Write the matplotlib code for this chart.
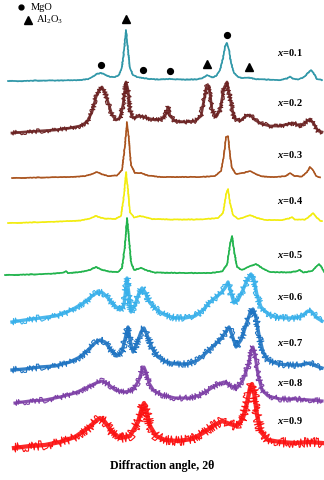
import matplotlib
matplotlib.use("Agg")
import matplotlib.pyplot as plt
import numpy as np

plt.rcParams['font.family'] = ['Liberation Serif', 'DejaVu Serif']
plt.rcParams['mathtext.fontset'] = 'custom'
plt.rcParams['mathtext.rm'] = 'Liberation Serif'
plt.rcParams['mathtext.it'] = 'Liberation Serif:italic:bold'
plt.rcParams['mathtext.bf'] = 'Liberation Serif:bold'

# XRD patterns, 2theta (deg) vs intensity (a.u., above each pattern's baseline)
tt_01 = [10.66, 13.3, 17.7, 22.1, 26.5, 28.3, 29.4, 30.24, 31.12, 32.0, 33.1, 34.2, 35.08, 35.74, 36.18,
         36.62, 37.06, 37.5, 38.16, 39.04, 40.36, 41.9, 44.1, 46.3, 48.5, 51.8, 53.34, 54.0, 54.44, 54.88,
         55.54, 56.42, 57.3, 57.96, 58.4, 58.84, 59.28, 59.72, 60.38, 61.26, 62.36, 63.68, 65.0, 67.2,
         70.5, 72.04, 72.7, 73.36, 74.46, 75.78, 76.66, 77.32, 77.98, 78.64, 79.74]
I_01 = [0, 0, 0.5, 0.5, 1, 2, 4.5, 7, 8, 6.5, 4, 4, 6, 14, 31,
        51, 31, 13, 6, 4, 3, 2, 1.5, 2, 1.5, 1.5, 2.5, 4.5, 6, 5,
        3.5, 5, 11, 23, 34, 38, 31, 18, 8, 4, 3, 3.5, 2, 1.5,
        1, 2.5, 4.5, 2.5, 1.5, 4, 8, 11, 7, 2, 1]

tt_02 = [11.54, 14.4, 17.7, 21.0, 24.3, 26.5, 28.04, 29.14, 30.02, 30.68, 31.34, 32.0, 32.66, 33.54, 34.42,
         35.3, 35.96, 36.62, 37.06, 37.5, 38.16, 39.7, 41.24, 43.0, 44.54, 45.42, 45.86, 46.3, 47.4, 49.6,
         51.8, 53.12, 53.78, 54.44, 54.88, 55.54, 56.42, 57.3, 58.18, 58.84, 59.5, 60.38, 61.7, 63.02, 63.9,
         65.0, 66.54, 68.3, 70.5, 72.26, 73.36, 74.9, 76.22, 77.1, 77.98, 78.86, 79.74]
I_02 = [0, 1, 2, 3, 5, 7, 11, 21, 36, 43, 46, 40, 31, 18, 13,
        15, 28, 51, 43, 23, 15, 17, 15, 13, 14, 19, 26, 17, 12, 11,
        12, 17, 33, 47, 47, 23, 16, 23, 45, 51, 35, 15, 12, 17, 18,
        13, 9, 7, 7, 9, 10, 7, 11, 14, 9, 2, 1]

tt_03 = [11.54, 17.7, 24.3, 27.6, 29.14, 30.24, 31.12, 32.66, 34.64, 35.74, 36.4, 36.84, 37.28, 37.72, 38.6,
         39.92, 41.46, 44.1, 48.5, 52.9, 56.2, 57.52, 58.18, 58.62, 59.06, 59.5, 59.94, 60.82, 62.36, 63.9,
         65.22, 66.54, 69.4, 71.82, 72.7, 73.58, 75.34, 76.44, 77.1, 77.76, 78.42, 79.3]
I_03 = [0, 0.5, 1, 2, 4, 6, 4, 2, 2.5, 8, 33, 56, 38, 13, 5,
        5, 2.5, 1, 1, 1, 2, 7, 23, 41, 42, 23, 10, 4, 5, 7,
        4, 1.5, 1, 2, 5, 2, 1.5, 6, 11, 8, 2, 0.5]

tt_04 = [10.66, 15.5, 22.1, 26.5, 28.7, 30.02, 30.9, 32.0, 34.2, 35.52, 36.18, 36.62, 37.06, 37.5, 38.38,
         39.7, 40.8, 42.34, 46.3, 52.9, 56.86, 57.96, 58.62, 59.06, 59.5, 60.16, 61.26, 62.8, 63.9, 65.22,
         67.2, 70.9, 72.48, 73.14, 73.8, 76.0, 77.1, 77.76, 78.42, 79.3, 79.74]
I_04 = [-1, -0.5, 0.5, 1.5, 3.5, 6, 4.5, 3.5, 3, 6, 27, 50, 32, 10, 4.5,
        6, 5, 3, 2.5, 2.5, 4, 9, 27, 33, 19, 7, 3, 5, 7, 4.5,
        2, 2, 3.5, 5, 2.5, 2.5, 6, 9, 5, 1.5, 1]

tt_05 = [10.0, 15.5, 21.0, 22.98, 23.42, 23.86, 26.5, 28.7, 30.02, 30.9, 32.66, 34.86, 35.74, 36.4, 36.84,
         37.28, 37.72, 38.38, 39.92, 41.24, 43.0, 48.5, 55.1, 57.74, 58.84, 59.5, 59.94, 60.38, 61.04, 62.14,
         63.9, 65.22, 66.54, 68.3, 72.7, 74.24, 74.9, 75.56, 77.54, 78.64, 79.08, 79.74, 80.18]
I_05 = [0, 0.5, 1.5, 2.5, 4, 2, 3, 5, 8, 6, 3.5, 3, 7, 30, 57,
        37, 13, 5, 7, 4.5, 2.5, 2, 2, 3.5, 10, 30, 39, 25, 8, 5,
        9, 11, 7, 3, 2.5, 4, 5, 2.5, 4, 9, 11, 7, 3]

tt_06 = [11.54, 14.4, 17.7, 21.0, 23.2, 25.4, 27.6, 29.14, 30.46, 31.56, 32.66, 33.98, 35.3, 36.18, 36.84,
         37.28, 37.72, 38.6, 39.48, 40.14, 40.8, 41.9, 43.44, 45.2, 47.4, 49.6, 51.8, 53.56, 55.1, 56.42,
         57.52, 58.4, 59.06, 59.72, 60.38, 61.26, 62.36, 63.24, 64.12, 64.78, 65.44, 66.32, 67.64, 69.4,
         71.6, 73.8, 75.34, 76.66, 77.54, 78.64, 79.74]
I_06 = [0, 2, 4, 6, 9, 14, 20, 26, 30, 29, 24, 17, 12, 17, 44,
        27, 10, 17, 29, 34, 30, 19, 12, 7, 4, 4, 6, 12, 20, 25,
        29, 34, 40, 29, 19, 22, 32, 42, 48, 42, 27, 15, 9, 5,
        4, 4, 6, 11, 10, 4, 1]

tt_07 = [11.54, 14.4, 17.7, 21.0, 24.3, 26.5, 28.26, 29.8, 30.9, 32.0, 33.32, 34.64, 35.74, 36.62, 37.06,
         37.5, 38.16, 39.04, 39.92, 40.58, 41.24, 42.34, 43.66, 45.42, 47.62, 50.26, 52.46, 54.22, 55.76,
         57.3, 58.4, 59.28, 59.94, 60.82, 61.92, 63.02, 63.9, 64.56, 65.22, 65.88, 66.76, 67.86, 70.06,
         72.7, 74.9, 77.1, 78.42, 79.74]
I_07 = [0, 1, 3, 4, 8, 13, 20, 27, 30, 28, 20, 14, 18, 35, 43,
        30, 18, 27, 38, 42, 35, 22, 13, 8, 6, 6, 10, 17, 24,
        30, 37, 43, 35, 23, 30, 45, 57, 61, 52, 35, 18, 10, 6,
        5, 5, 7, 4, 2]

tt_08 = [12.2, 15.5, 18.8, 22.1, 25.4, 28.26, 30.02, 31.34, 32.66, 34.2, 36.4, 38.16, 39.48, 40.14, 40.58,
         41.02, 41.68, 42.78, 44.54, 47.4, 50.7, 52.9, 55.1, 56.86, 58.18, 59.72, 61.04, 62.36, 63.46, 64.12,
         64.56, 65.0, 65.66, 66.54, 67.86, 70.5, 73.8, 77.1, 79.74]
I_08 = [0, 2, 3, 6, 10, 16, 20, 22, 19, 13, 11, 13, 23, 33, 36,
        31, 20, 12, 8, 5, 5, 8, 14, 19, 21, 17, 15, 23, 37, 51,
        56, 48, 28, 13, 7, 4, 4, 3, 2]

tt_09 = [11.98, 15.5, 18.8, 22.1, 25.4, 28.26, 30.02, 30.9, 32.0, 33.54, 35.3, 37.5, 39.26, 40.14, 40.58,
         41.02, 41.9, 43.22, 45.2, 48.06, 51.14, 53.56, 55.76, 57.74, 59.5, 61.04, 62.36, 63.24, 63.9, 64.34,
         64.78, 65.44, 66.32, 67.86, 70.5, 73.8, 77.1, 79.74]
I_09 = [0, 2, 3, 6, 11, 20, 27, 30, 26, 16, 10, 12, 26, 40, 45,
        38, 22, 12, 8, 7, 9, 15, 22, 27, 24, 22, 30, 45, 60, 64,
        56, 33, 16, 8, 6, 5, 6, 5]

x_values = ['0.1', '0.2', '0.3', '0.4', '0.5', '0.6', '0.7', '0.8', '0.9']
offsets = [399, 347, 302, 258, 205, 158, 110, 77, 32]
label_h = [29, 30, 23, 21, 20, 25, 27, 20, 27]
colors = ['#2f97a8', '#6b2222', '#a9521c', '#f2ec0c', '#1fb34b', '#38b0ea', '#1f74c2', '#7d3fa6', '#fb1212']
noise = [0.6, 2.4, 0.5, 0.5, 0.6, 3.4, 3.4, 3.0, 4.8]

mgo_peaks = [31.12, 40.36, 46.3, 58.84]
al2o3_peaks = [36.62, 54.44, 63.68]

patterns = [(tt_01, I_01), (tt_02, I_02), (tt_03, I_03), (tt_04, I_04), (tt_05, I_05),
            (tt_06, I_06), (tt_07, I_07), (tt_08, I_08), (tt_09, I_09)]

fig = plt.figure(figsize=(3.24, 4.8), dpi=100)
ax = fig.add_axes([0, 0, 1, 1])
ax.set_xlim(8.9, 80.18)
ax.set_ylim(0, 480)
ax.axis('off')

for (tt, inten), off, lh, c, nz, xv in zip(patterns, offsets, label_h, colors, noise, x_values):
    y = np.array(inten) + off
    # solid core of the noisy band
    ax.plot(tt, y, color=c, lw=0.9 + 0.45 * nz, alpha=0.9, solid_joinstyle='round')
    ln, = ax.plot(tt, y, color=c, lw=0.8)
    ln.set_sketch_params(scale=nz, length=0.5, randomness=1.5)
    ax.text(69.8, off + lh, '$x$=' + xv, fontsize=7.5, fontweight='bold',
            ha='left', va='center')

# peak markers above x=0.1 pattern
y01 = np.interp(mgo_peaks, tt_01, I_01) + offsets[0]
ax.plot(mgo_peaks, y01 + 8, 'o', color='black', ms=4.2)
y01a = np.interp(al2o3_peaks, tt_01, I_01) + offsets[0]
ax.plot(al2o3_peaks, y01a + 11, '^', color='black', ms=5.5)

# legend
ax.plot([13.6], [473], 'o', color='black', ms=3.5)
ax.text(15.6, 473, 'MgO', fontsize=7.5, va='center', ha='left')
ax.plot([15.0], [460], '^', color='black', ms=5.5)
ax.text(16.8, 460, 'Al$_\\mathrm{2}$O$_\\mathrm{3}$', fontsize=7.5, va='center', ha='left')

ax.text(0.5, 14 / 480, 'Diffraction angle, 2θ', transform=ax.transAxes,
        fontsize=8.6, fontweight='bold', ha='center', va='center')

fig.savefig('out.png', dpi=100)
